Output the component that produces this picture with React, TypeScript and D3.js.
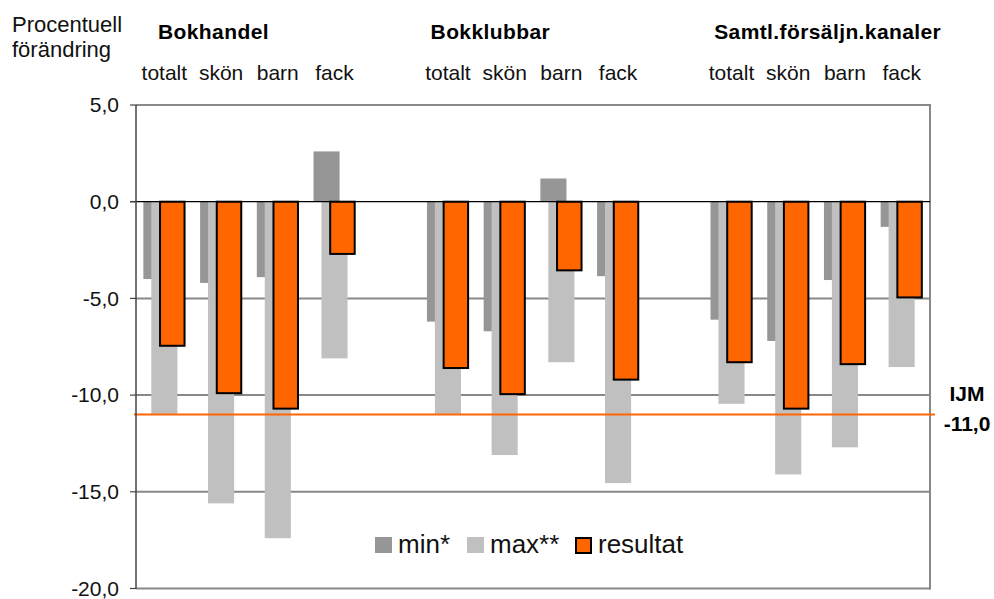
import * as d3 from "d3";

// --- data ---
const groups = ["Bokhandel", "Bokklubbar", "Samtl.försäljn.kanaler"];
const categories = ["totalt", "skön", "barn", "fack"];

// 12 values each: 4 categories x 3 groups
const minValues = [-4.0, -4.2, -3.9, 2.6, -6.2, -6.7, 1.2, -3.85, -6.1, -7.2, -4.05, -1.3];
const maxValues = [-11.0, -15.6, -17.4, -8.1, -11.0, -13.1, -8.3, -14.55, -10.45, -14.1, -12.7, -8.55];
const resultValues = [-7.45, -9.9, -10.7, -2.7, -8.6, -9.95, -3.55, -9.2, -8.3, -10.7, -8.4, -4.95];

const yTicks = [5, 0, -5, -10, -15, -20];
const ijmValue = -11.0;

const seriesNames = ["min*", "max**", "resultat"];
const seriesColors = ["#969696", "#c0c0c0", "#ff6600"];

const W = 994;
const H = 599;
const FONT = "Arial, 'Liberation Sans', sans-serif";

const fmt = (v: number) => v.toFixed(1).replace(".", ",");

export default function App() {
  // slots: 4 categories per group, one empty slot between groups
  const slotKeys: string[] = [];
  groups.forEach((g, gi) => {
    if (gi > 0) slotKeys.push(`gap${gi}`);
    categories.forEach((c) => slotKeys.push(`${g}|${c}`));
  });
  const keysForValues = slotKeys.filter((k) => !k.startsWith("gap"));

  const plotLeft = 136;
  const plotRight = 930;

  const x = d3.scaleBand<string>().domain(slotKeys).range([plotLeft, plotRight]).padding(0);
  const y = d3.scaleLinear().domain([-20, 5]).range([588.5, 105]);

  const bw = x.bandwidth();
  const barW = bw * 0.46;
  const step = bw * 0.14;
  const cluster = barW + 2 * step;

  const series = [minValues, maxValues, resultValues];

  const bars: JSX.Element[] = [];
  series.forEach((vals, s) => {
    vals.forEach((v, i) => {
      const key = keysForValues[i];
      const cx = (x(key) ?? 0) + bw / 2;
      const bx = cx - cluster / 2 + s * step;
      const y0 = y(0);
      const y1 = y(v);
      bars.push(
        <rect
          key={`${s}-${i}`}
          x={s === 2 ? bx + 0.8 : bx}
          y={Math.min(y0, y1)}
          width={s === 2 ? barW - 1.6 : barW}
          height={Math.abs(y1 - y0)}
          fill={seriesColors[s]}
          stroke={s === 2 ? "#000" : "none"}
          strokeWidth={s === 2 ? 2 : 0}
        />
      );
    });
  });

  const titleOffsets = [22, 11, 11];
  const legendX = [375, 467, 575];

  return (
    <div style={{ position: "absolute", left: 0, top: 0 }}>
      <svg width={W} height={H} style={{ display: "block", background: "#fff" }} fontFamily={FONT}>
        {/* gridlines */}
        {yTicks
          .filter((t) => t !== 0)
          .map((t) => (
            <line key={t} x1={plotLeft} x2={plotRight} y1={y(t)} y2={y(t)} stroke="#888" strokeWidth={2} />
          ))}
        {/* right border */}
        <line x1={plotRight} x2={plotRight} y1={y(5) - 1} y2={y(-20) + 1} stroke="#888" strokeWidth={2} />

        {bars}

        {/* zero line */}
        <line x1={plotLeft - 6} x2={plotRight} y1={y(0)} y2={y(0)} stroke="#000" strokeWidth={1.2} />

        {/* IJM line */}
        <line x1={plotLeft - 2} x2={plotRight + 5} y1={y(ijmValue)} y2={y(ijmValue)} stroke="#ff6600" strokeWidth={2} />

        {/* y axis */}
        <line x1={plotLeft} x2={plotLeft} y1={y(5)} y2={y(-20)} stroke="#444" strokeWidth={1.5} />
        {yTicks.map((t) => (
          <g key={t}>
            <line x1={plotLeft - 6} x2={plotLeft} y1={y(t)} y2={y(t)} stroke="#444" strokeWidth={1.2} />
            <text x={119} y={y(t)} dy="0.35em" textAnchor="end" fontSize={21} fill="#111">
              {fmt(t)}
            </text>
          </g>
        ))}

        {/* axis title */}
        <text x={12} y={32} fontSize={22} fill="#111">Procentuell</text>
        <text x={12} y={57} fontSize={22} fill="#111">förändring</text>

        {/* group titles and category labels */}
        {groups.map((g, gi) => (
          <text
            key={g}
            x={(x(`${g}|${categories[0]}`) ?? 0) + titleOffsets[gi]}
            y={39}
            fontSize={21}
            fontWeight="bold"
            letterSpacing={0.4}
            fill="#000"
          >
            {g}
          </text>
        ))}
        {keysForValues.map((k) => (
          <text key={k} x={(x(k) ?? 0) + bw / 2} y={80} textAnchor="middle" fontSize={21} fill="#111">
            {k.split("|")[1]}
          </text>
        ))}

        {/* IJM label */}
        <text x={967} y={401} textAnchor="middle" fontSize={21} fontWeight="bold" fill="#000">IJM</text>
        <text x={967} y={431} textAnchor="middle" fontSize={21} fontWeight="bold" fill="#000">{fmt(ijmValue)}</text>

        {/* legend */}
        {seriesNames.map((name, s) => (
          <g key={name} transform={`translate(${legendX[s]},537)`}>
            <rect
              x={s === 2 ? 1 : 0}
              y={s === 2 ? 1 : 0}
              width={s === 2 ? 15 : 17}
              height={s === 2 ? 15 : 16}
              fill={seriesColors[s]}
              stroke={s === 2 ? "#000" : "none"}
              strokeWidth={2}
            />
            <text x={23} y={16} fontSize={26} fill="#111">{name}</text>
          </g>
        ))}
      </svg>
    </div>
  );
}
